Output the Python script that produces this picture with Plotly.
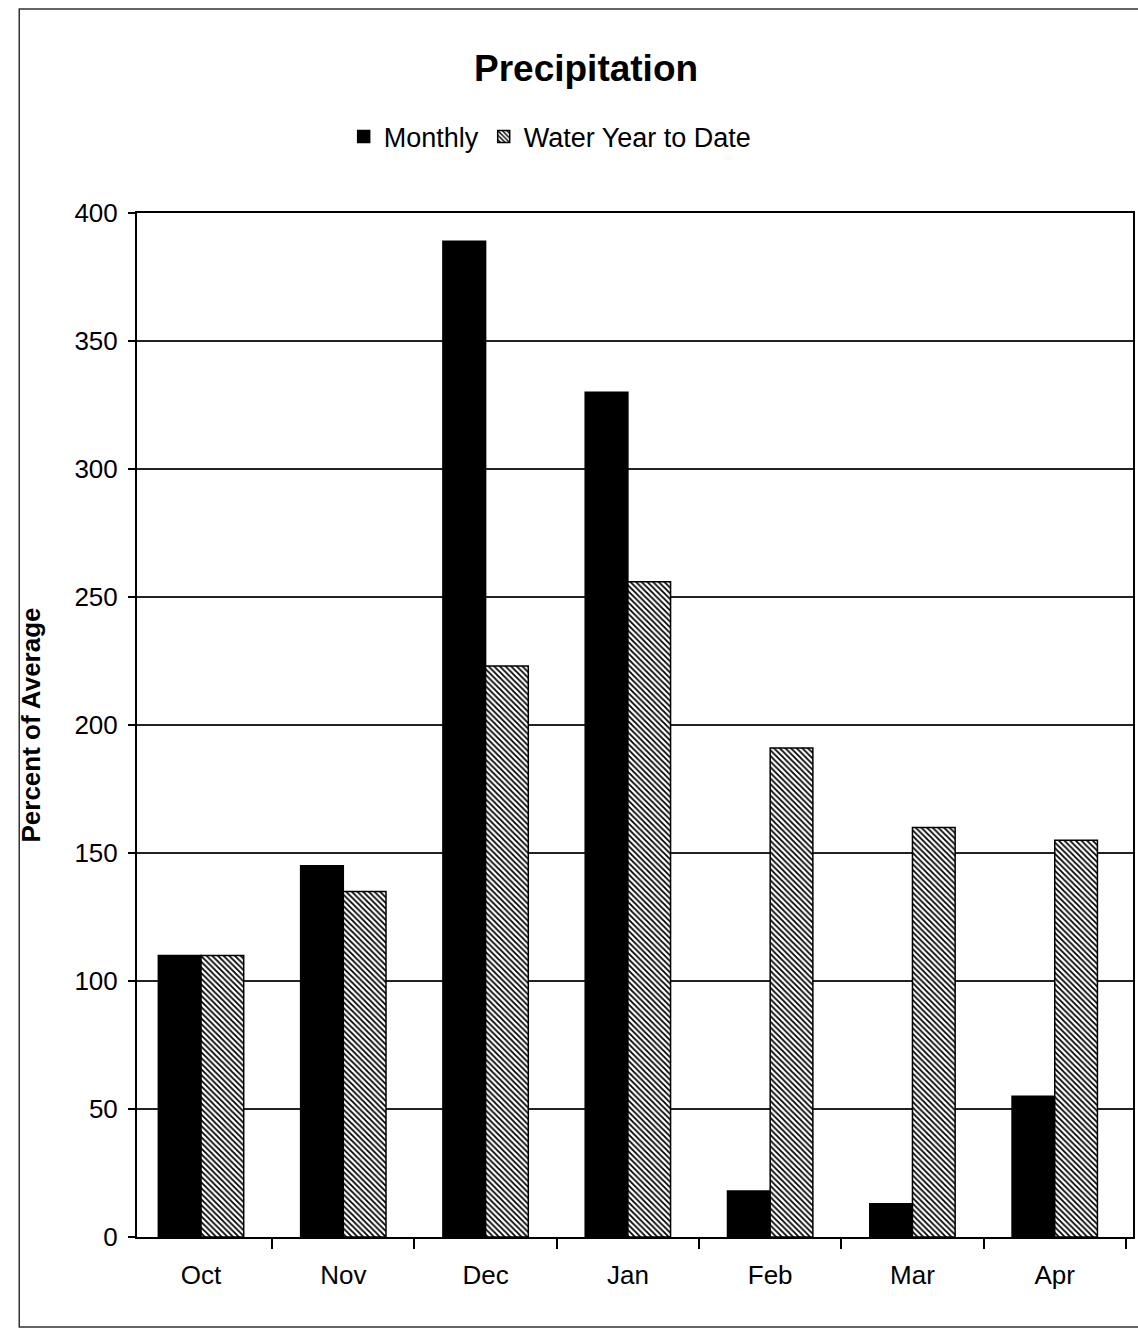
import plotly.graph_objects as go

# Precipitation, percent of average
months = ["Oct", "Nov", "Dec", "Jan", "Feb", "Mar", "Apr"]
monthly = [110, 145, 389, 330, 18, 13, 55]
water_year_to_date = [110, 135, 223, 256, 191, 160, 155]
y_ticks = [0, 50, 100, 150, 200, 250, 300, 350, 400]

W, H = 1138, 1330
M_L, M_R, M_T, M_B = 137, 3, 213, 93
PW, PH = W - M_L - M_R, H - M_T - M_B

def px_x(x):
    return (x - M_L) / PW

def px_y(y):
    return (H - M_B - y) / PH

FONT = "Arial, Liberation Sans, sans-serif"

fig = go.Figure()
fig.add_trace(go.Bar(
    x=months, y=monthly, name="Monthly",
    marker=dict(color="black", line=dict(color="black", width=1.5)),
))
fig.add_trace(go.Bar(
    x=months, y=water_year_to_date, name="Water Year to Date",
    marker=dict(
        color="white",
        line=dict(color="black", width=1.5),
        pattern=dict(shape="\\", fgcolor="black", bgcolor="white",
                     size=4, solidity=0.45, fillmode="replace"),
    ),
))

fig.update_layout(
    width=W, height=H,
    margin=dict(l=M_L, r=M_R, t=M_T, b=M_B),
    paper_bgcolor="white", plot_bgcolor="white",
    font=dict(family=FONT, color="black", size=26),
    barmode="group", bargap=0.40, bargroupgap=0.0,
    title=dict(text="<b>Precipitation</b>", x=0.515, xanchor="center",
               y=1 - 68 / H, yanchor="middle",
               font=dict(size=37, family=FONT, color="black")),
    legend=dict(orientation="h", x=px_x(551), xanchor="center",
                y=px_y(137), yanchor="middle",
                font=dict(size=27, family=FONT), itemwidth=30,
                traceorder="normal", bgcolor="rgba(0,0,0,0)"),
    showlegend=True,
)

fig.update_xaxes(
    range=[-0.45, 6.55],
    showline=True, linecolor="black", linewidth=2, mirror=True,
    ticks="outside", ticklen=10, tickwidth=1.5, tickcolor="black",
    tickson="boundaries", showgrid=False, ticklabelstandoff=14,
    tickfont=dict(size=26, family=FONT),
)
fig.update_yaxes(
    range=[0, 400], tickvals=y_ticks,
    showline=True, linecolor="black", linewidth=2, mirror=True,
    ticks="outside", ticklen=7, tickwidth=1.5, tickcolor="black",
    showgrid=True, gridcolor="#222", gridwidth=1.5,
    zeroline=False, ticklabelstandoff=5,
    tickfont=dict(size=26, family=FONT),
    title=dict(text="<b>Percent of Average</b>", standoff=26,
               font=dict(size=26, family=FONT)),
)

# Outer chart frame
fig.add_shape(type="rect", xref="paper", yref="paper",
              x0=px_x(19), x1=px_x(1142), y0=px_y(1327), y1=px_y(9),
              line=dict(color="#333", width=1.5), layer="below")

fig.write_html("out.html")
